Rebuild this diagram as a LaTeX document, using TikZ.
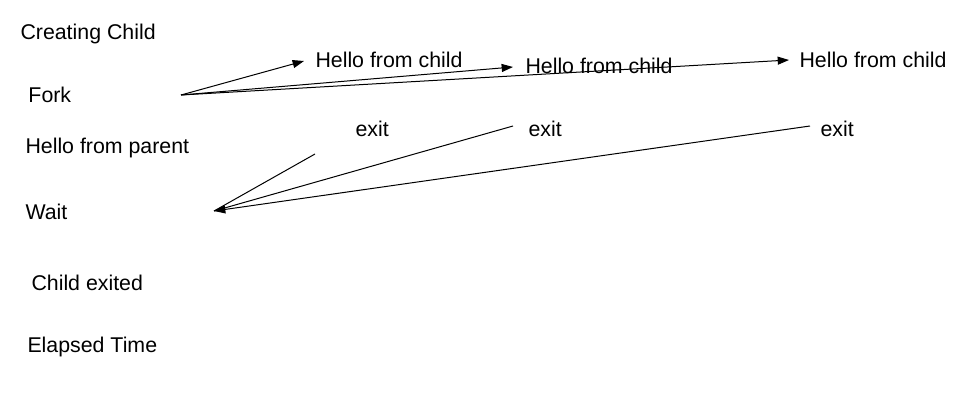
\documentclass[tikz,border=0pt]{standalone}
\usepackage{fontspec}
\setmainfont{Liberation Sans}
\usetikzlibrary{arrows.meta}

\begin{document}
\begin{tikzpicture}[x=0.75pt, y=-0.75pt, line width=0.75pt,
    every node/.style={anchor=base west, inner sep=0pt, font=\fontsize{16}{19}\selectfont},
    msg/.style={-{Triangle[length=8.5pt, width=6pt]}}]
        \useasboundingbox (0,0) rectangle (978,400);
        % parent column
        \node (creating) at (20,39) {Creating Child};
        \node (fork) at (28,102) {Fork};
        \node (parent) at (25,153) {Hello from parent};
        \node (wait) at (25,219) {Wait};
        \node (exited) at (31,290) {Child exited};
        \node (elapsed) at (27,352) {Elapsed Time};
        % children
        \node (hello1) at (315,67) {Hello from child};
        \node (hello2) at (525,73.5) {Hello from child};
        \node (hello3) at (799,67.5) {Hello from child};
        \node (exit1) at (355,136) {exit};
        \node (exit2) at (528,136) {exit};
        \node (exit3) at (820,136) {exit};
        % end points of the connectors
        \coordinate (forkout) at (181,95);
        \coordinate (waitin) at (214,211);
        \coordinate (to1) at (304,61);
        \coordinate (to2) at (513,67);
        \coordinate (to3) at (789,60);
        \coordinate (from1) at (315,154);
        \coordinate (from2) at (513,126);
        \coordinate (from3) at (810,126);
        \draw[msg] (forkout) -- (to1);
        \draw[msg] (forkout) -- (to2);
        \draw[msg] (forkout) -- (to3);
        \draw (from1) -- (waitin);
        \draw (from2) -- (waitin);
        \draw[msg] (from3) -- (waitin);
    \end{tikzpicture}
\end{document}
